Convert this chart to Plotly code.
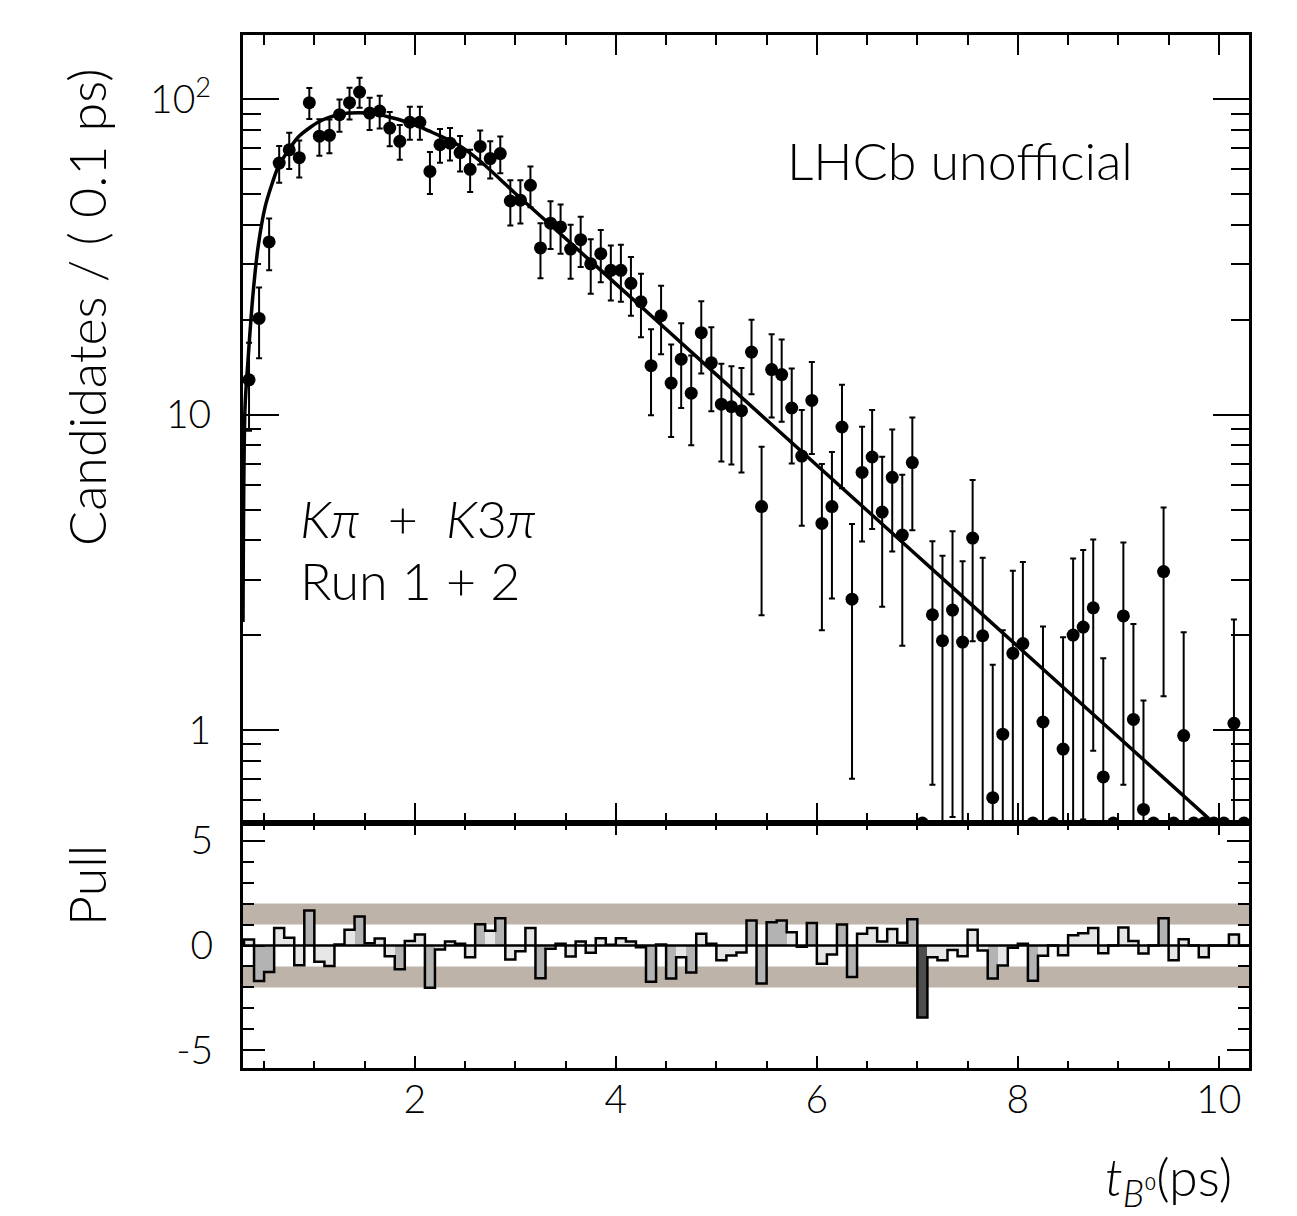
import numpy as np
import plotly.graph_objects as go

# ---------------- data ----------------
bin_lo = 0.3
bin_w = 0.1
t_centers = [round(bin_lo + bin_w * (i + 0.5), 2) for i in range(100)]

counts = [12.9, 20.2, 35.3, 62.8, 69.2, 65.3, 97.6, 76.4, 76.9, 89.4,
          97.6, 105.5, 90.5, 91.8, 81.1, 73.6, 84.6, 84.6, 59.1, 71.8,
          72.6, 67.8, 60.0, 70.9, 64.9, 67.3, 47.6, 47.9, 53.4, 33.8,
          40.5, 39.4, 33.5, 35.9, 30.1, 32.4, 28.7, 28.7, 26.1, 22.8,
          14.3, 20.6, 12.6, 15.0, 11.7, 18.2, 14.6, 10.8, 10.6, 10.3,
          15.8, 5.11, 13.9, 13.4, 10.5, 7.39, 11.1, 4.52, 5.11, 9.14,
          2.60, 6.56, 7.34, 4.91, 6.33, 4.15, 7.05, 0, 2.32, 1.92,
          2.40, 1.90, 4.06, 1.99, 0.61, 0.97, 1.75, 1.88, 0, 1.06,
          0, 0.87, 2.0, 2.12, 2.44, 0.71, 0, 2.30, 1.08, 0.56,
          0, 3.18, 0, 0.96, 0, 0, 0, 0, 1.05, 0]

errors = [4.0, 5.1, 6.6, 8.4, 9.1, 8.8, 11.0, 10.1, 9.4, 10.5,
          11.2, 11.5, 10.6, 10.9, 10.1, 9.3, 10.2, 10.2, 9.0, 8.8,
          8.6, 8.7, 9.2, 8.8, 8.8, 9.0, 7.8, 7.5, 7.9, 6.7,
          7.0, 7.0, 6.5, 6.5, 5.9, 6.1, 5.7, 5.9, 5.5, 5.2,
          4.35, 5.05, 4.1, 4.5, 3.7, 4.7, 4.35, 3.7, 3.65, 3.75,
          4.2, 2.8, 4.1, 3.9, 3.5, 2.95, 3.6, 2.45, 2.5, 3.3,
          1.9, 2.6, 3.0, 2.45, 2.65, 2.3, 2.75, 0, 1.65, 1.65,
          1.87, 1.53, 2.15, 1.53, 1.0, 1.1, 1.45, 1.53, 0, 1.07,
          0, 1.1, 1.5, 1.6, 1.58, 0.98, 0, 1.63, 1.09, 0.68,
          0, 1.9, 0, 1.08, 0, 0, 0, 0, 1.19, 0]

pulls = [0.29, -1.70, -1.27, 0.83, 0.37, -0.94, 1.67, -0.78, -0.98, 0.05,
         0.75, 1.38, 0.11, 0.33, -0.51, -1.14, 0.21, 0.52, -2.02, -0.19,
         0.19, 0.08, -0.56, 1.02, 0.71, 1.30, -0.67, -0.27, 0.83, -1.56,
         -0.16, 0.08, -0.52, 0.19, -0.35, 0.35, 0.03, 0.35, 0.19, -0.08,
         -1.73, 0.05, -1.57, -0.56, -1.29, 0.56, 0.08, -0.71, -0.48, -0.33,
         1.19, -1.81, 1.11, 1.19, 0.63, -0.06, 1.08, -0.87, -0.43, 1.00,
         -1.51, 0.56, 0.84, 0.19, 0.79, 0.13, 1.25, -3.44, -0.56, -0.70,
         -0.22, -0.51, 0.75, -0.24, -1.57, -0.95, -0.11, 0.08, -1.68, -0.49,
         0.0, -0.46, 0.49, 0.59, 0.84, -0.37, 0.0, 0.86, 0.22, -0.38,
         0.0, 1.30, -0.71, 0.30, 0.0, -0.56, 0.0, 0.0, 0.52, 0.0]

fit_t = [0.29, 0.31, 0.34, 0.39, 0.44, 0.51, 0.58, 0.64, 0.74, 0.84,
         0.94, 1.04, 1.14, 1.24, 1.34, 1.44, 1.54, 1.64, 1.74, 1.84,
         1.94, 2.04, 2.14, 2.24, 2.44, 2.64, 3.0, 3.5, 4.0, 5.0,
         6.0, 7.0, 8.0, 9.0, 10.0]
fit_v = [2.2, 10.5, 14.9, 24.2, 34.0, 45.6, 54.1, 61.0, 68.8, 76.0,
         80.7, 84.8, 87.5, 89.4, 90.5, 90.7, 90.5, 89.6, 87.9, 86.3,
         84.1, 82.1, 79.4, 76.9, 71.4, 64.1, 50.3, 36.2, 26.0, 13.4,
         6.91, 3.57, 1.84, 0.95, 0.49]

y_tick_vals = [1, 10, 100]
y_tick_text = ["1", "10", "10<sup>2</sup>"]
x_tick_vals = [2, 4, 6, 8, 10]
pull_tick_vals = [-5, 0, 5]
pull_tick_text = ["-5", "0", "5"]

# ---------------- layout constants ----------------
OFF = 8                      # page body margin
W, H = 1297 - OFF, 1216 - OFF
L, T = 243 - OFF, 35 - OFF
PW, PH = 1249 - 243, 1068 - 35
R, B = W - L - PW, H - T - PH
X_RANGE = [0.29, 10.3]
Y_MIN, Y_MAX = 0.507, 160.0
PULL_RANGE = [-5.85, 5.85]
split = (1068 - 823) / PH

FONT = "Lato, 'Open Sans', sans-serif"
TICK_SIZE = 39
ANN_SIZE = 52


def px_x(p):
    return (p - OFF - L) / PW


def px_y(p):
    return (T + PH - (p - OFF)) / PH


counts_a = np.array(counts, dtype=float)
errors_a = np.array(errors, dtype=float)
nonzero = counts_a > 0
y_plot = np.where(nonzero, counts_a, Y_MIN)
e_plot = np.where(nonzero, errors_a, 0.0)

pulls_a = np.array(pulls)
abs_p = np.abs(pulls_a)
bar_colors = np.where(abs_p >= 3, "#4d4d4d", np.where(abs_p >= 1, "#b3b3b3", "#e6e6e6"))

edges = [bin_lo + bin_w * i for i in range(len(pulls) + 1)]
step_x = [edges[0]] + edges
step_y = [0.0] + list(pulls) + [pulls[-1]]

fig = go.Figure()

fig.add_trace(go.Scatter(x=fit_t, y=fit_v, mode="lines",
                         line=dict(color="black", width=3.5, shape="spline", smoothing=0.8),
                         xaxis="x", yaxis="y", hoverinfo="skip"))
fig.add_trace(go.Scatter(x=t_centers, y=y_plot, mode="markers",
                         marker=dict(color="black", size=13),
                         error_y=dict(type="data", array=e_plot, color="black",
                                      thickness=2, width=3),
                         cliponaxis=True, xaxis="x", yaxis="y"))
fig.add_trace(go.Bar(x=t_centers, y=pulls, width=bin_w,
                     marker=dict(color=list(bar_colors), line=dict(width=0)),
                     xaxis="x2", yaxis="y2"))
fig.add_trace(go.Scatter(x=step_x, y=step_y, mode="lines",
                         line=dict(color="black", width=2.5, shape="hv"),
                         xaxis="x2", yaxis="y2"))

minor_log = [k * 10 ** n for n in range(-1, 3) for k in range(2, 10)
             if Y_MIN <= k * 10 ** n <= Y_MAX]

axis_common = dict(showline=True, linewidth=3, linecolor="black", mirror="ticks",
                   ticks="inside", tickcolor="black", showgrid=False, zeroline=False)

fig.update_layout(
    width=W, height=H,
    margin=dict(l=L, r=R, t=T, b=B),
    paper_bgcolor="white", plot_bgcolor="white",
    showlegend=False, bargap=0,
    font=dict(family=FONT, size=TICK_SIZE, color="black", weight=300),
    xaxis=dict(domain=[0, 1], anchor="y", range=X_RANGE, tickvals=x_tick_vals,
               showticklabels=False, ticklen=20, tickwidth=2,
               minor=dict(dtick=0.5, tick0=0, ticks="inside", ticklen=10,
                          tickwidth=2, tickcolor="black"),
               **axis_common),
    yaxis=dict(domain=[split, 1], anchor="x", type="log",
               range=[np.log10(Y_MIN), np.log10(Y_MAX)],
               tickvals=y_tick_vals, ticktext=y_tick_text, ticklen=36, tickwidth=2,
               tickfont=dict(size=TICK_SIZE), ticklabelstandoff=21,
               minor=dict(tickmode="array", tickvals=minor_log, ticks="inside",
                          ticklen=18, tickwidth=2, tickcolor="black"),
               **axis_common),
    xaxis2=dict(domain=[0, 1], anchor="y2", range=X_RANGE, tickvals=x_tick_vals,
                ticklen=12, tickwidth=2, tickfont=dict(size=TICK_SIZE), ticklabelstandoff=-5,
                minor=dict(dtick=0.5, tick0=0, ticks="inside", ticklen=7,
                           tickwidth=2, tickcolor="black"),
                **axis_common),
    yaxis2=dict(domain=[0, split], anchor="x2", range=PULL_RANGE,
                tickvals=pull_tick_vals, ticktext=pull_tick_text, ticklen=22, tickwidth=2,
                tickfont=dict(size=TICK_SIZE), ticklabelstandoff=19,
                minor=dict(dtick=1, tick0=0, ticks="inside", ticklen=11,
                           tickwidth=2, tickcolor="black"),
                **axis_common),
)

band_color = "#bdb3a8"
for lo, hi in [(1, 2), (-2, -1)]:
    fig.add_shape(type="rect", xref="x2 domain", yref="y2", x0=0, x1=1, y0=lo, y1=hi,
                  fillcolor=band_color, line=dict(width=0), layer="below")
fig.add_shape(type="line", xref="x2 domain", yref="y2", x0=0, x1=1, y0=0, y1=0,
              line=dict(color="black", width=2.5), layer="above")

ann_font = dict(family=FONT, size=ANN_SIZE, color="black", weight=300)
fig.add_annotation(text="Candidates / ( 0.1 ps)", textangle=-90,
                   x=px_x(86), y=px_y(307), xref="paper", yref="paper",
                   xanchor="center", yanchor="middle", showarrow=False, font=ann_font)
fig.add_annotation(text="Pull", textangle=-90,
                   x=px_x(86), y=px_y(886), xref="paper", yref="paper",
                   xanchor="center", yanchor="middle", showarrow=False, font=ann_font)
fig.add_annotation(text="LHCb unofficial", x=px_x(785), y=px_y(160), xref="paper",
                   yref="paper", xanchor="left", yanchor="middle", showarrow=False,
                   font=ann_font)
fig.add_annotation(text="<i>Kπ</i>  +  <i>K</i>3<i>π</i>", x=px_x(298), y=px_y(518),
                   xref="paper", yref="paper", xanchor="left", yanchor="middle",
                   showarrow=False, font=ann_font)
fig.add_annotation(text="Run 1 + 2", x=px_x(298), y=px_y(580), xref="paper",
                   yref="paper", xanchor="left", yanchor="middle", showarrow=False,
                   font=ann_font)
fig.add_annotation(text="<i>t</i><sub><i>B</i>⁰</sub>(ps)", x=px_x(1234), y=px_y(1180),
                   xref="paper", yref="paper", xanchor="right", yanchor="middle",
                   showarrow=False, font=ann_font)

fig.write_html("out.html")
